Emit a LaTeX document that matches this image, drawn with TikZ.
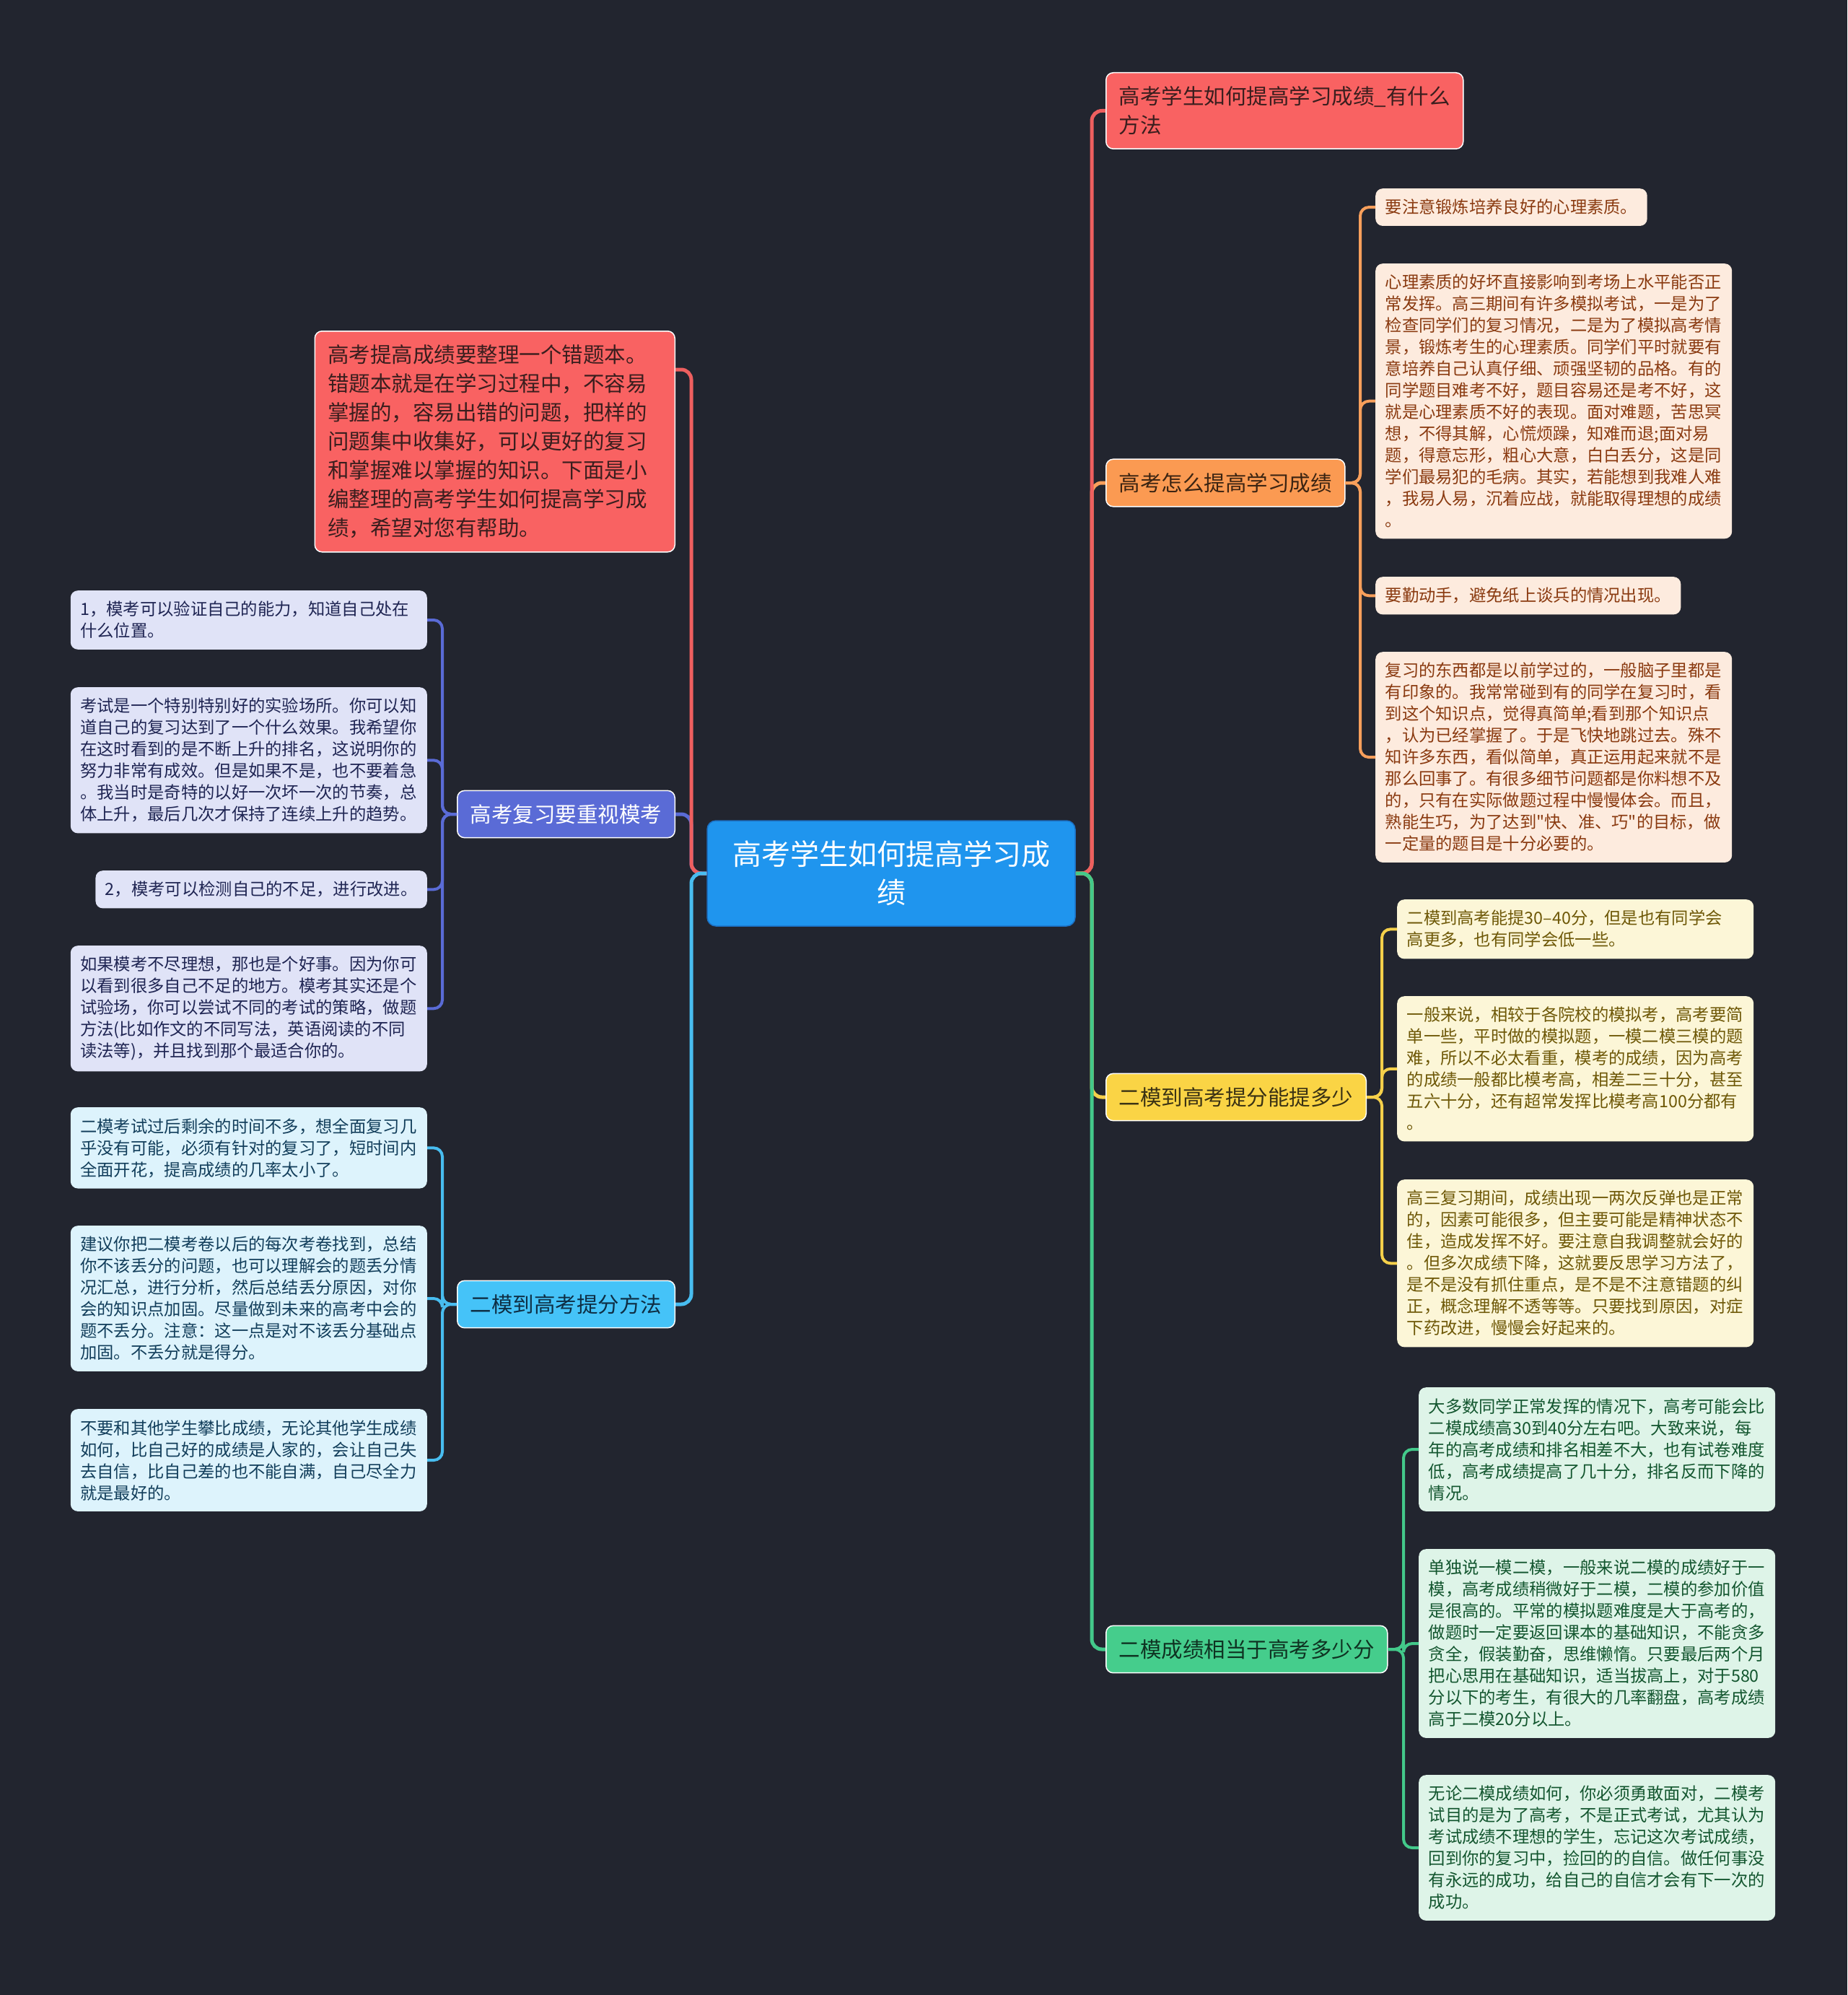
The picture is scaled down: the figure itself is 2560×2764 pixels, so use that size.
\documentclass[tikz,border=0pt]{standalone}
\usepackage{fontspec}
\setmainfont{Noto Sans CJK SC}[Ligatures=TeXOff]
\usepackage{xcolor}
\usepackage{tikz}
\usetikzlibrary{positioning,calc}

\definecolor{bgdark}{HTML}{22252F}
\definecolor{ctrblue}{HTML}{1F95EE}
\definecolor{ctredge}{HTML}{1C6FC2}
\definecolor{redfill}{HTML}{F96262}
\definecolor{orgfill}{HTML}{FB9A52}
\definecolor{yelfill}{HTML}{FAD445}
\definecolor{grnfill}{HTML}{45CD8C}
\definecolor{purfill}{HTML}{5A6BD6}
\definecolor{blufill}{HTML}{45C3F8}
\definecolor{redline}{HTML}{EE5F5F}
\definecolor{orgline}{HTML}{F89F5B}
\definecolor{yelline}{HTML}{F5D04A}
\definecolor{grnline}{HTML}{43C98A}
\definecolor{purline}{HTML}{5A6BD6}
\definecolor{bluline}{HTML}{48BDF0}
\definecolor{orgleaf}{HTML}{FDEBDE}
\definecolor{orgtext}{HTML}{8A3A10}
\definecolor{yelleaf}{HTML}{FCF6D7}
\definecolor{yeltext}{HTML}{6E5807}
\definecolor{grnleaf}{HTML}{DEF4E8}
\definecolor{grntext}{HTML}{13562F}
\definecolor{purleaf}{HTML}{E0E3F7}
\definecolor{purtext}{HTML}{1F2553}
\definecolor{bluleaf}{HTML}{DDF3FC}
\definecolor{blutext}{HTML}{123E5B}
\definecolor{darkred}{HTML}{3A1E1E}
\definecolor{darkorg}{HTML}{3B2412}
\definecolor{darkyel}{HTML}{3A3214}
\definecolor{darkgrn}{HTML}{0F3322}
\definecolor{darkblu}{HTML}{0E2E44}

\begin{document}
\begin{tikzpicture}[
    x=1pt, y=-1pt,
    root box/.style={rounded corners=12pt, fill=ctrblue, draw=ctredge, line width=1.5pt, text=white, align=center, minimum width=510pt, minimum height=146pt, font=\fontsize{40}{53}\selectfont},
    branch box/.style={rounded corners=10pt, draw=white, line width=1.5pt, align=left, inner xsep=18pt, inner ysep=19pt, font=\fontsize{29.5}{40}\selectfont},
    leaf box/.style={rounded corners=10pt, align=left, inner xsep=13.5pt, inner ysep=15pt, font=\fontsize{23.3}{30}\selectfont},
    wide/.style={text width=467pt},
    org leaf/.style={leaf box, fill=orgleaf, text=orgtext, anchor=north west},
    yel leaf/.style={leaf box, fill=yelleaf, text=yeltext, anchor=north west},
    grn leaf/.style={leaf box, fill=grnleaf, text=grntext, anchor=north west},
    pur leaf/.style={leaf box, fill=purleaf, text=purtext, anchor=north east},
    blu leaf/.style={leaf box, fill=bluleaf, text=blutext, anchor=north east},
    link/.style={line width=5pt, rounded corners=14pt},
    twig/.style={line width=4pt, rounded corners=12pt}
]
    \useasboundingbox (0,0) rectangle (2560,2764);
    \fill[bgdark] (0,0) rectangle (2560,2764);

    % trunks
    \coordinate (rtr) at (1513,0);
    \coordinate (ltr) at (958,0);
    \coordinate (otr) at (1885,0);
    \coordinate (ytr) at (1915,0);
    \coordinate (gtr) at (1945,0);
    \coordinate (lftr) at (613,0);

    \node[root box] (root) at (1235,1210) {高考学生如何提高学习成\\绩};

    % right side
    \node[branch box, fill=redfill, text=darkred, anchor=north west] (red1) at (1532,100) {高考学生如何提高学习成绩\_有什么\\方法};
    \node[branch box, fill=orgfill, text=darkorg, anchor=west] (org) at (1532,669) {高考怎么提高学习成绩};
    \node[branch box, fill=yelfill, text=darkyel, anchor=west] (yel) at (1532,1520) {二模到高考提分能提多少};
    \node[branch box, fill=grnfill, text=darkgrn, anchor=west] (grn) at (1532,2285) {二模成绩相当于高考多少分};

    \node[org leaf] (ol1) at (1906,261) {要注意锻炼培养良好的心理素质。};
    \node[org leaf, wide] (ol2) at (1906,365) {心理素质的好坏直接影响到考场上水平能否正\\
常发挥。高三期间有许多模拟考试，一是为了\\
检查同学们的复习情况，二是为了模拟高考情\\
景，锻炼考生的心理素质。同学们平时就要有\\
意培养自己认真仔细、顽强坚韧的品格。有的\\
同学题目难考不好，题目容易还是考不好，这\\
就是心理素质不好的表现。面对难题，苦思冥\\
想，不得其解，心慌烦躁，知难而退;面对易\\
题，得意忘形，粗心大意，白白丢分，这是同\\
学们最易犯的毛病。其实，若能想到我难人难\\
，我易人易，沉着应战，就能取得理想的成绩\\
。};
    \node[org leaf] (ol3) at (1906,799) {要勤动手，避免纸上谈兵的情况出现。};
    \node[org leaf, wide] (ol4) at (1906,903) {复习的东西都是以前学过的，一般脑子里都是\\
有印象的。我常常碰到有的同学在复习时，看\\
到这个知识点，觉得真简单;看到那个知识点\\
，认为已经掌握了。于是飞快地跳过去。殊不\\
知许多东西，看似简单，真正运用起来就不是\\
那么回事了。有很多细节问题都是你料想不及\\
的，只有在实际做题过程中慢慢体会。而且，\\
熟能生巧，为了达到"快、准、巧"的目标，做\\
一定量的题目是十分必要的。};

    \node[yel leaf, wide] (yl1) at (1936,1246) {二模到高考能提30–40分，但是也有同学会\\
高更多，也有同学会低一些。};
    \node[yel leaf, wide] (yl2) at (1936,1380) {一般来说，相较于各院校的模拟考，高考要简\\
单一些，平时做的模拟题，一模二模三模的题\\
难，所以不必太看重，模考的成绩，因为高考\\
的成绩一般都比模考高，相差二三十分，甚至\\
五六十分，还有超常发挥比模考高100分都有\\
。};
    \node[yel leaf, wide] (yl3) at (1936,1634) {高三复习期间，成绩出现一两次反弹也是正常\\
的，因素可能很多，但主要可能是精神状态不\\
佳，造成发挥不好。要注意自我调整就会好的\\
。但多次成绩下降，这就要反思学习方法了，\\
是不是没有抓住重点，是不是不注意错题的纠\\
正，概念理解不透等等。只要找到原因，对症\\
下药改进，慢慢会好起来的。};

    \node[grn leaf, wide] (gl1) at (1966,1922) {大多数同学正常发挥的情况下，高考可能会比\\
二模成绩高30到40分左右吧。大致来说，每\\
年的高考成绩和排名相差不大，也有试卷难度\\
低，高考成绩提高了几十分，排名反而下降的\\
情况。};
    \node[grn leaf, wide] (gl2) at (1966,2146) {单独说一模二模，一般来说二模的成绩好于一\\
模，高考成绩稍微好于二模，二模的参加价值\\
是很高的。平常的模拟题难度是大于高考的，\\
做题时一定要返回课本的基础知识，不能贪多\\
贪全，假装勤奋，思维懒惰。只要最后两个月\\
把心思用在基础知识，适当拔高上，对于580\\
分以下的考生，有很大的几率翻盘，高考成绩\\
高于二模20分以上。};
    \node[grn leaf, wide] (gl3) at (1966,2459) {无论二模成绩如何，你必须勇敢面对，二模考\\
试目的是为了高考，不是正式考试，尤其认为\\
考试成绩不理想的学生，忘记这次考试成绩，\\
回到你的复习中，捡回的的自信。做任何事没\\
有永远的成功，给自己的自信才会有下一次的\\
成功。};

    % left side
    \node[branch box, fill=redfill, text=darkred, anchor=north east, text width=463pt] (red2) at (936,458) {高考提高成绩要整理一个错题本。\\
错题本就是在学习过程中，不容易\\
掌握的，容易出错的问题，把样的\\
问题集中收集好，可以更好的复习\\
和掌握难以掌握的知识。下面是小\\
编整理的高考学生如何提高学习成\\
绩，希望对您有帮助。};
    \node[branch box, fill=purfill, text=white, anchor=east] (pur) at (936,1128) {高考复习要重视模考};
    \node[branch box, fill=blufill, text=darkblu, anchor=east] (blu) at (936,1807) {二模到高考提分方法};

    \node[pur leaf, wide] (pl1) at (592,818) {1，模考可以验证自己的能力，知道自己处在\\
什么位置。};
    \node[pur leaf, wide] (pl2) at (592,952) {考试是一个特别特别好的实验场所。你可以知\\
道自己的复习达到了一个什么效果。我希望你\\
在这时看到的是不断上升的排名，这说明你的\\
努力非常有成效。但是如果不是，也不要着急\\
。我当时是奇特的以好一次坏一次的节奏，总\\
体上升，最后几次才保持了连续上升的趋势。};
    \node[pur leaf] (pl3) at (592,1206) {2，模考可以检测自己的不足，进行改进。};
    \node[pur leaf, wide] (pl4) at (592,1310) {如果模考不尽理想，那也是个好事。因为你可\\
以看到很多自己不足的地方。模考其实还是个\\
试验场，你可以尝试不同的考试的策略，做题\\
方法(比如作文的不同写法，英语阅读的不同\\
读法等)，并且找到那个最适合你的。};

    \node[blu leaf, wide] (bl1) at (592,1534) {二模考试过后剩余的时间不多，想全面复习几\\
乎没有可能，必须有针对的复习了，短时间内\\
全面开花，提高成绩的几率太小了。};
    \node[blu leaf, wide] (bl2) at (592,1698) {建议你把二模考卷以后的每次考卷找到，总结\\
你不该丢分的问题，也可以理解会的题丢分情\\
况汇总，进行分析，然后总结丢分原因，对你\\
会的知识点加固。尽量做到未来的高考中会的\\
题不丢分。注意：这一点是对不该丢分基础点\\
加固。不丢分就是得分。};
    \node[blu leaf, wide] (bl3) at (592,1952) {不要和其他学生攀比成绩，无论其他学生成绩\\
如何，比自己好的成绩是人家的，会让自己失\\
去自信，比自己差的也不能自满，自己尽全力\\
就是最好的。};

    % branches from the root
    \draw[link, orgline] (root.east) -- (root.east -| rtr) |- (org.west);
    \draw[link, yelline] (root.east) -- (root.east -| rtr) |- (yel.west);
    \draw[link, redline] (root.east) -- (root.east -| rtr) |- (red1.west);
    \draw[link, grnline] (root.east) -- (root.east -| rtr) |- (grn.west);
    \draw[link, purline] (root.west) -- (root.west -| ltr) |- (pur.east);
    \draw[link, redline] (root.west) -- (root.west -| ltr) |- ([yshift=-54pt]red2.north east);
    \draw[link, bluline] (root.west) -- (root.west -| ltr) |- (blu.east);

    % leaves
    \foreach \i in {1,...,4}
      \draw[twig, orgline] (org.east) -- (org.east -| otr) |- (ol\i.west);
    \foreach \i in {1,...,3}
      \draw[twig, yelline] (yel.east) -- (yel.east -| ytr) |- (yl\i.west);
    \foreach \i in {1,...,3}
      \draw[twig, grnline] (grn.east) -- (grn.east -| gtr) |- (gl\i.west);
    \foreach \i in {1,...,4}
      \draw[twig, purline] (pur.west) -- (pur.west -| lftr) |- (pl\i.east);
    \foreach \i in {1,...,3}
      \draw[twig, bluline] (blu.west) -- (blu.west -| lftr) |- (bl\i.east);
\end{tikzpicture}
\end{document}
